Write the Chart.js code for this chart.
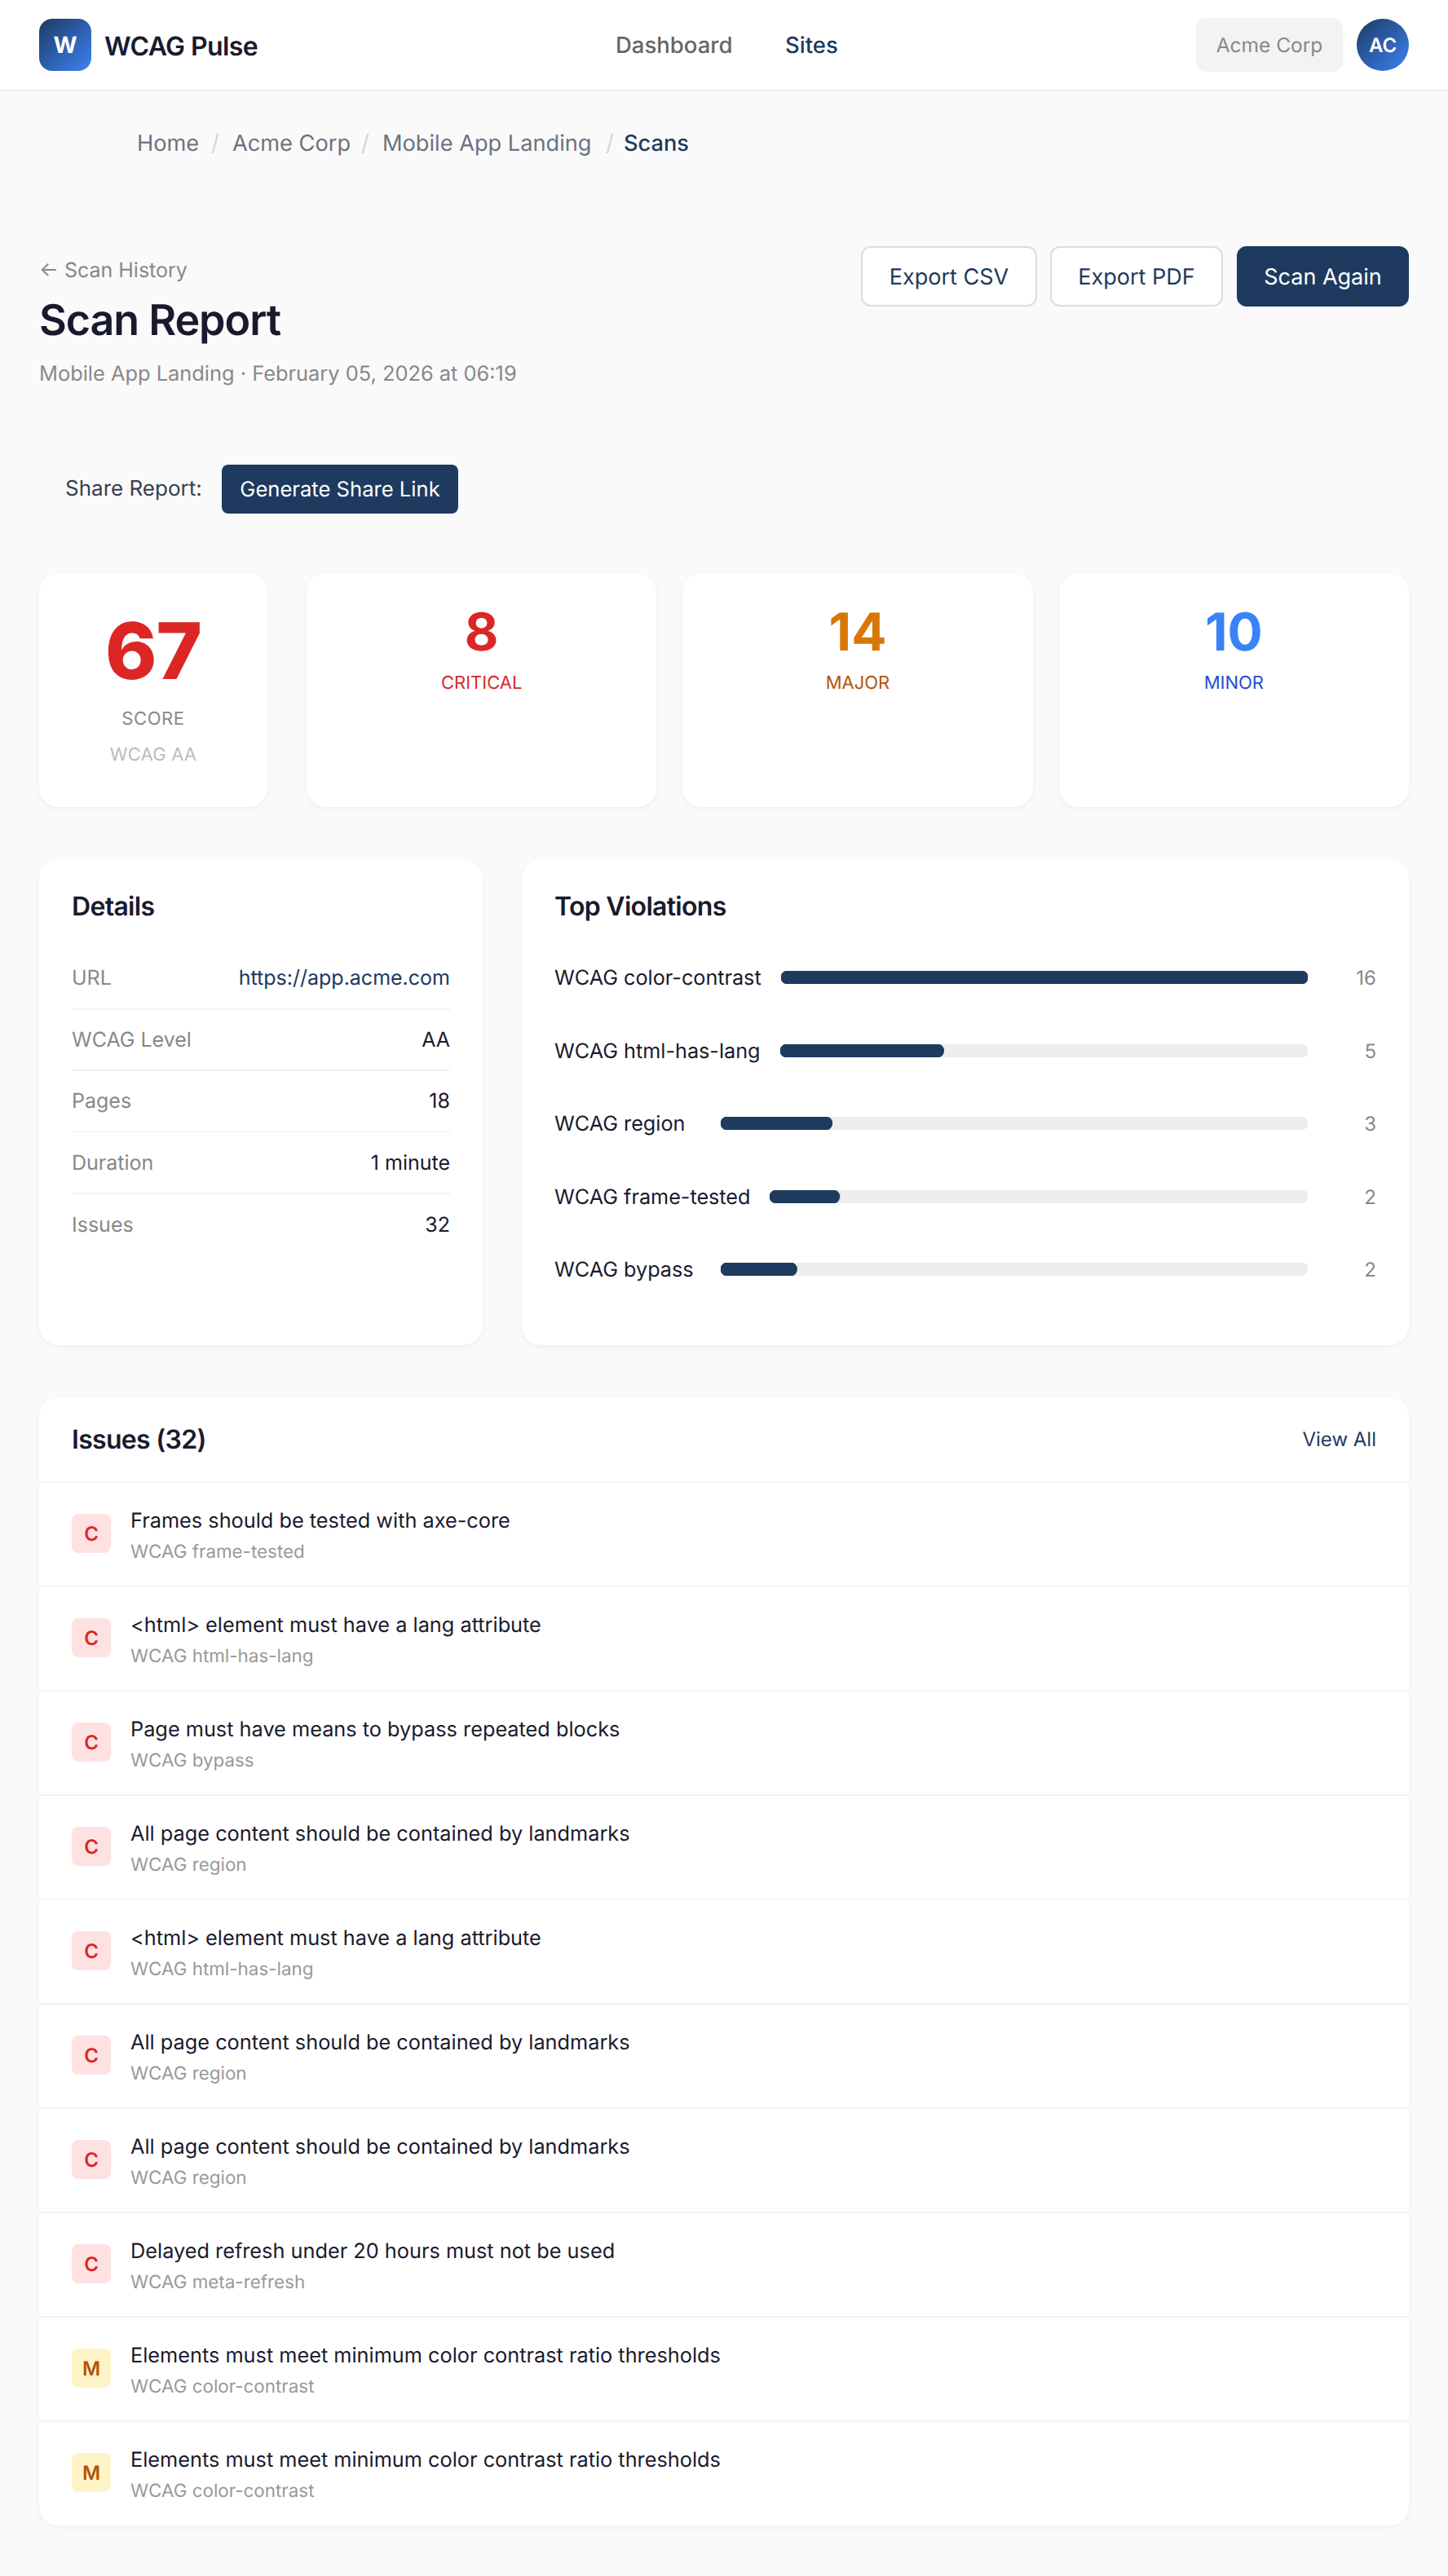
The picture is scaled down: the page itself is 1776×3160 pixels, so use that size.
<!DOCTYPE html>
<html lang="en">
<head>
<meta charset="utf-8">
<title>Scan Report</title>
<script src="https://cdn.jsdelivr.net/npm/chart.js@4"></script>
<style>
  * { box-sizing: border-box; margin: 0; padding: 0; }
  html, body { width: 1776px; height: 3160px; overflow: hidden; }
  body { position: relative; background: #fafafa; font-family: Inter, "Noto Sans", sans-serif; color: #1a1a2e; text-rendering: geometricPrecision; }
  .abs { position: absolute; white-space: nowrap; }
  .mid { transform: translateY(-50%); }

  header { position: absolute; left: 0; top: 0; width: 1776px; height: 112px; background: #fff; border-bottom: 2px solid #eeeeee; }
  .logo { left: 48px; top: 23px; width: 64px; height: 64px; border-radius: 16px; background: linear-gradient(135deg, #1e3a5f, #3b82f6); color: #fff; font-weight: 700; font-size: 28px; display: flex; align-items: center; justify-content: center; }
  .brand { left: 128px; top: 56px; font-size: 32px; font-weight: 600; letter-spacing: -0.6px; }
  .nav { top: 55px; font-size: 27.5px; font-weight: 500; color: #666; }
  .chip { left: 1467px; top: 22px; width: 180px; height: 66px; background: #f3f3f3; border-radius: 12px; color: #888; font-size: 24.5px; display: flex; align-items: center; justify-content: center; }
  .avatar { left: 1664px; top: 23px; width: 64px; height: 64px; border-radius: 50%; background: linear-gradient(135deg, #1e3a5f, #3b82f6); color: #fff; font-weight: 600; font-size: 24px; display: flex; align-items: center; justify-content: center; }

  .crumb { top: 175px; font-size: 27.2px; color: #6b7280; }
  .crumb.sep { color: #d1d5db; }
  .crumb.now { color: #1e3a5f; font-weight: 500; }

  .back { left: 48px; top: 332px; font-size: 25px; color: #888; }
  h1 { left: 48px; top: 392px; font-size: 52px; font-weight: 600; letter-spacing: -1.04px; }
  .sub { left: 48px; top: 458px; font-size: 25.4px; color: #888; }

  .btn { top: 302px; height: 74px; border-radius: 12px; font-size: 27px; font-weight: 400; display: flex; align-items: center; justify-content: center; background: #fff; border: 2px solid #ddd; color: #1e3a5f; }
  .btn.solid { background: #1e3a5f; border-color: #1e3a5f; color: #fff; }

  .sharebar { left: 48px; top: 546px; width: 1680px; height: 108px; background: #fafafb; border-radius: 16px; }
  .sharelabel { left: 80px; top: 599px; font-size: 26px; font-weight: 400; color: #374151; }
  .sharebtn { left: 272px; top: 570px; width: 290px; height: 60px; background: #1e3a5f; color: #fff; font-size: 25.6px; font-weight: 400; border-radius: 8px; display: flex; align-items: center; justify-content: center; }

  .card { position: absolute; background: #fff; border-radius: 24px; box-shadow: 0 2px 6px rgba(0,0,0,0.05); }
  .center { left: 0; width: 100%; text-align: center; }
  h2 { font-size: 32px; font-weight: 600; letter-spacing: -0.7px; }

  .drow-l { left: 88px; font-size: 25px; color: #888; }
  .divider { position: absolute; left: 88px; width: 464px; height: 2px; background: #f3f3f3; }

  .vrow { position: absolute; left: 680px; width: 1008px; height: 16px; display: flex; align-items: center; gap: 24px; }
  .vlabel { min-width: 180px; font-size: 25.2px; white-space: nowrap; position: relative; top: 1px; }
  .vtrack { position: relative; flex: 1; height: 16px; min-width: 0; }
  .vcount { width: 60px; text-align: right; font-size: 24px; color: #888; }

  .issue { position: absolute; left: 0; width: 100%; height: 128px; border-top: 2px solid #f3f3f3; }
  .badge { position: absolute; left: 40px; top: 38px; width: 48px; height: 48px; border-radius: 8px; display: flex; align-items: center; justify-content: center; font-size: 24px; font-weight: 600; }
  .badge.C { background: #fee2e2; color: #dc2626; }
  .badge.M { background: #fef3c7; color: #b45309; }
  .ititle { position: absolute; left: 112px; top: 46px; transform: translateY(-50%); font-size: 25.3px; white-space: nowrap; }
  .irule { position: absolute; left: 112px; top: 84px; transform: translateY(-50%); font-size: 22.4px; color: #999; white-space: nowrap; }
</style>
</head>
<body>
<header></header>
<div class="abs logo">W</div>
<div class="abs brand mid">WCAG Pulse</div>
<div class="abs nav mid" style="left:755px">Dashboard</div>
<div class="abs nav mid" style="left:963px;color:#1e3a5f">Sites</div>
<div class="abs chip">Acme Corp</div>
<div class="abs avatar">AC</div>

<div id="crumbs"></div>

<div class="abs back mid">← Scan History</div>
<h1 class="abs mid">Scan Report</h1>
<div class="abs sub mid">Mobile App Landing · February 05, 2026 at 06:19</div>
<div class="abs btn" style="left:1056px;width:216px">Export CSV</div>
<div class="abs btn" style="left:1288px;width:212px">Export PDF</div>
<div class="abs btn solid" style="left:1517px;width:211px">Scan Again</div>

<div class="abs sharebar"></div>
<div class="abs sharelabel mid">Share Report:</div>
<div class="abs sharebtn">Generate Share Link</div>

<div class="card" style="left:48px;top:703px;width:280px;height:287px">
  <div class="abs center mid" style="top:96px;font-size:96px;font-weight:800;color:#dc2626;letter-spacing:-1px">67</div>
  <div class="abs center mid" style="top:179px;font-size:22px;color:#888;letter-spacing:0.6px">SCORE</div>
  <div class="abs center mid" style="top:223px;font-size:22px;color:#bbb;letter-spacing:0.2px">WCAG AA</div>
</div>
<div id="sevCards"></div>

<div class="card" style="left:48px;top:1054px;width:544px;height:596px"></div>
<h2 class="abs mid" style="left:88px;top:1111px">Details</h2>
<div id="details"></div>

<div class="card" style="left:640px;top:1054px;width:1088px;height:596px"></div>
<h2 class="abs mid" style="left:680px;top:1111px">Top Violations</h2>
<div id="violations"></div>

<div class="card" id="issueCard" style="left:48px;top:1714px;width:1680px;height:1384px;overflow:hidden">
  <h2 class="abs mid" style="left:40px;top:51px">Issues (32)</h2>
  <div class="abs mid" style="right:40px;top:51px;font-size:24px;font-weight:400;color:#1e3a5f">View All</div>
</div>

<script>
// Breadcrumbs
const crumbLabels = ['Home', 'Acme Corp', 'Mobile App Landing', 'Scans'];
const crumbLefts = [168, 285, 469, 765];
const crumbSepLefts = [259, 443, 743];

// Severity cards
const sevValues = [8, 14, 10];
const sevLabels = ['CRITICAL', 'MAJOR', 'MINOR'];
const sevValueColors = ['#dc2626', '#d97706', '#3b82f6'];
const sevLabelColors = ['#dc2626', '#b45309', '#1d4ed8'];
const sevLefts = [376, 837.33, 1298.67];

// Details
const detailLabels = ['URL', 'WCAG Level', 'Pages', 'Duration', 'Issues'];
const detailValues = ['https://app.acme.com', 'AA', '18', '1 minute', '32'];
const detailTops = [1200, 1276, 1351, 1427, 1503];
const detailDividers = [1237, 1312, 1387, 1463];

// Top violations
const violationLabels = ['WCAG color-contrast', 'WCAG html-has-lang', 'WCAG region', 'WCAG frame-tested', 'WCAG bypass'];
const violationCounts = [16, 5, 3, 2, 2];
// bar lengths in the picture are whole percents of the track
const violationPercents = [100, 31, 19, 13, 13];
const violationTops = [1191, 1281, 1370, 1460, 1549];

// Issues
const issueTitles = [
  'Frames should be tested with axe-core',
  '<html> element must have a lang attribute',
  'Page must have means to bypass repeated blocks',
  'All page content should be contained by landmarks',
  '<html> element must have a lang attribute',
  'All page content should be contained by landmarks',
  'All page content should be contained by landmarks',
  'Delayed refresh under 20 hours must not be used',
  'Elements must meet minimum color contrast ratio thresholds',
  'Elements must meet minimum color contrast ratio thresholds'
];
const issueRules = ['WCAG frame-tested', 'WCAG html-has-lang', 'WCAG bypass', 'WCAG region', 'WCAG html-has-lang', 'WCAG region', 'WCAG region', 'WCAG meta-refresh', 'WCAG color-contrast', 'WCAG color-contrast'];
const issueSeverity = ['C', 'C', 'C', 'C', 'C', 'C', 'C', 'C', 'M', 'M'];

function addEl(parent, className, text, style) {
  const el = document.createElement('div');
  el.className = className;
  if (text !== undefined) el.textContent = text;
  if (style) el.style.cssText = style;
  parent.appendChild(el);
  return el;
}

const crumbs = document.getElementById('crumbs');
crumbLabels.forEach((label, i) => {
  const last = i === crumbLabels.length - 1;
  addEl(crumbs, 'abs crumb mid' + (last ? ' now' : ''), label, `left:${crumbLefts[i]}px`);
  if (!last) addEl(crumbs, 'abs crumb sep mid', '/', `left:${crumbSepLefts[i]}px`);
});

const sevCards = document.getElementById('sevCards');
sevValues.forEach((v, i) => {
  const card = addEl(sevCards, 'card', undefined, `left:${sevLefts[i]}px;top:703px;width:429.33px;height:287px`);
  addEl(card, 'abs center mid', v, `top:72px;font-size:64px;font-weight:700;color:${sevValueColors[i]}`);
  addEl(card, 'abs center mid', sevLabels[i], `top:135px;font-size:22px;color:${sevLabelColors[i]}`);
});

const details = document.getElementById('details');
detailLabels.forEach((label, i) => {
  addEl(details, 'abs drow-l mid', label, `top:${detailTops[i]}px`);
  addEl(details, 'abs mid', detailValues[i], `left:552px;top:${detailTops[i]}px;font-size:25px;transform:translate(-100%,-50%);color:${i === 0 ? '#1e3a5f' : '#1a1a2e'}`);
});
detailDividers.forEach(top => addEl(details, 'divider', undefined, `top:${top}px`));

// Each row gets its own small chart because the track width depends on the label width
const violations = document.getElementById('violations');
violationLabels.forEach((label, i) => {
  const row = addEl(violations, 'vrow', undefined, `top:${violationTops[i]}px`);
  addEl(row, 'vlabel', label);
  const track = addEl(row, 'vtrack');
  addEl(row, 'vcount', violationCounts[i]);
  const canvas = document.createElement('canvas');
  track.appendChild(canvas);
  new Chart(canvas, {
    type: 'bar',
    data: {
      labels: [label],
      datasets: [
        { data: [violationPercents[i]], backgroundColor: '#1e3a5f', order: 1 },
        { data: [100], backgroundColor: '#eeeeee', order: 2 }
      ]
    },
    options: {
      indexAxis: 'y',
      responsive: true,
      maintainAspectRatio: false,
      animation: false,
      layout: { padding: 0 },
      datasets: { bar: { grouped: false, barPercentage: 1, categoryPercentage: 1, borderRadius: 8, borderSkipped: false } },
      plugins: { legend: { display: false }, tooltip: { enabled: false } },
      scales: {
        x: { display: false, min: 0, max: 100 },
        y: { display: false }
      }
    }
  });
});

const issueCard = document.getElementById('issueCard');
issueTitles.forEach((title, i) => {
  const row = addEl(issueCard, 'issue', undefined, `top:${103 + i * 128}px`);
  addEl(row, 'badge ' + issueSeverity[i], issueSeverity[i]);
  addEl(row, 'ititle', title);
  addEl(row, 'irule', issueRules[i]);
});
</script>
</body>
</html>
